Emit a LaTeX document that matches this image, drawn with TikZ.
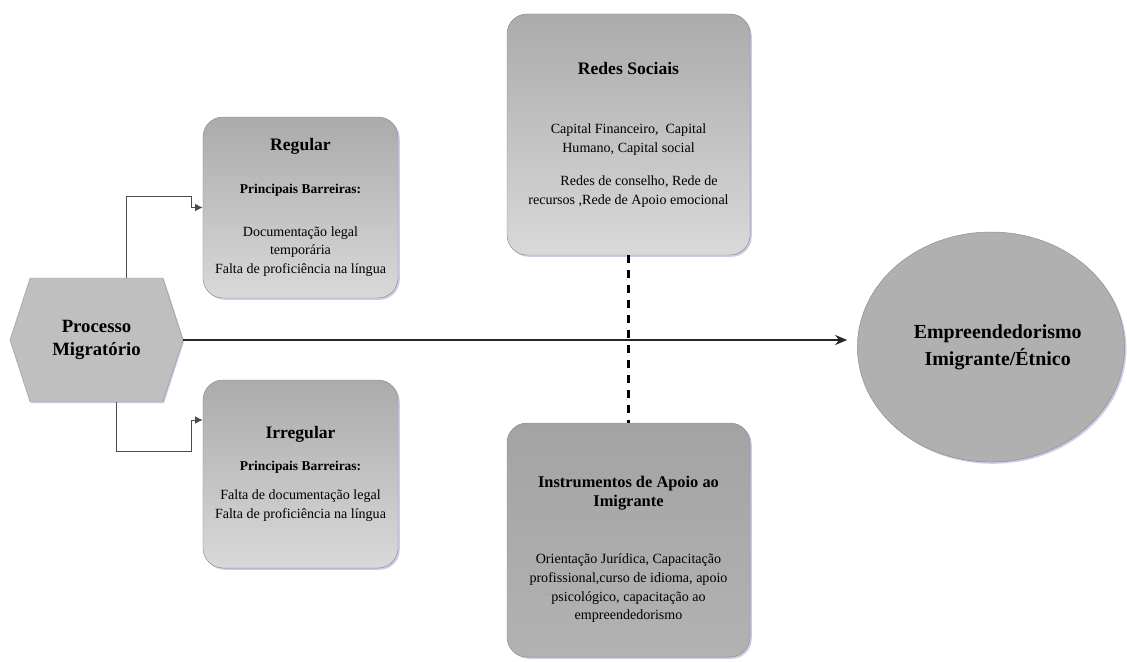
\documentclass[tikz,border=0pt]{standalone}
\usepackage{fontspec}
\setmainfont{Liberation Serif}
\usetikzlibrary{positioning,arrows.meta,shapes.geometric,shapes.symbols,shadows}
\tikzset{gbox/.style={draw=black!45,rounded corners=0.6cm,top color=black!33,bottom color=black!15,
	 align=center,inner sep=2pt,drop shadow={shadow xshift=1.5pt,shadow yshift=-1.5pt,fill=black!40!blue!40,opacity=.5}},
	 conn/.style={draw=black!70,line width=0.8pt,-{Latex[length=6.5pt,width=6.5pt]}},
	 body/.style={font=\fontsize{12}{16}\selectfont}
	 }
\newcommand{\ttl}[1]{{\fontsize{15}{17}\selectfont\bfseries #1}}
\newcommand{\barr}{{\fontsize{11.5}{14}\selectfont\bfseries Principais Barreiras:}}

\begin{document}
\begin{tikzpicture}[x=0.03cm,y=-0.03cm]
	\useasboundingbox (0,0) rectangle (1127,661);
	\node[signal,signal to=west and east,signal pointer angle=144,draw=black!40,fill=black!25,
	      minimum width=5.19cm,minimum height=3.72cm,inner sep=0pt,align=center,
	      font=\fontsize{16}{19.5}\selectfont\bfseries,
	      drop shadow={shadow xshift=1pt,shadow yshift=-1pt,fill=black!40!blue!40,opacity=.5}] (proc) at (96.5,340) {Processo\\Migratório};
	\node[gbox,body,minimum width=5.85cm,minimum height=5.43cm] (reg) at (300.5,207.5)
	      {\ttl{Regular}\\[21pt]\barr\\[20pt]Documentação legal\\temporária\\Falta de proficiência na língua};
	\node[gbox,body,minimum width=5.85cm,minimum height=5.64cm] (irr) at (300.5,474)
	      {\ttl{Irregular}\\[11pt]\barr\\[9pt]Falta de documentação legal\\Falta de proficiência na língua};
	\node[gbox,body,minimum width=7.29cm,minimum height=7.23cm] (red) at (628.5,134.5)
	      {\ttl{Redes Sociais}\\[35pt]Capital Financeiro,\ \ Capital\\Humano, Capital social\\[12pt]
	       \hspace*{1.5em}Redes de conselho, Rede de\\recursos ,Rede de Apoio emocional};
	\node[gbox,body,top color=black!36,bottom color=black!30,minimum width=7.29cm,minimum height=7.02cm] (ins) at (628.5,540)
	      {\\[10pt]{\fontsize{14}{17}\selectfont\bfseries Instrumentos de Apoio ao}\\{\fontsize{14}{17}\selectfont\bfseries Imigrante}\\[33pt]
	       Orientação Jurídica, Capacitação\\profissional,curso de idioma, apoio\\psicológico, capacitação ao\\empreendedorismo};
	\node[ellipse,draw=black!45,fill=black!31,minimum width=7.74cm,minimum height=6.9cm,align=center,
	      font=\fontsize{17}{23}\selectfont\bfseries,
	      drop shadow={shadow xshift=1.5pt,shadow yshift=-1.5pt,fill=black!40!blue!40,opacity=.5}] (emp) at (991,347)
	      {\hspace*{0.4cm}Empreendedorismo\\\hspace*{0.4cm}Imigrante/Étnico};
	\draw[conn] ([xshift=0.885cm]proc.north) |- ([xshift=-0.33cm,yshift=0.33cm]reg.west) |- (reg.west);
	\draw[conn] ([xshift=0.585cm]proc.south) |- ([xshift=-0.33cm,yshift=0.69cm]irr.west) |- ([yshift=1.62cm]irr.west);
	\draw[line width=1.7pt,black!85,-{Stealth[length=0.36cm,width=0.3cm]},shorten >=0.3cm] (proc.east) -- (proc.east -| emp.west);
	\draw[line width=2pt,dash pattern=on 6.8pt off 6pt] (red.south) -- (ins.north);
\end{tikzpicture}
\end{document}
